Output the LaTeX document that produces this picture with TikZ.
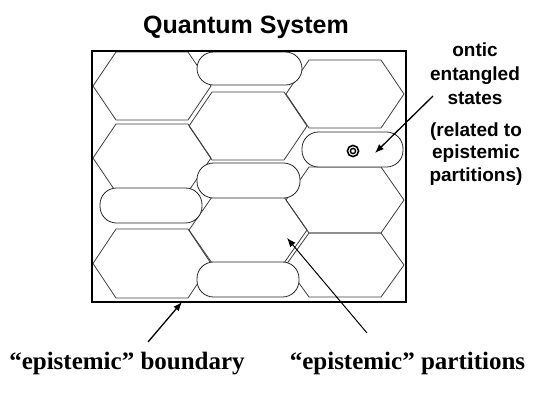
\documentclass[tikz,border=0pt]{standalone}
\usepackage{fontspec}
\setmainfont{Liberation Serif}
\newfontfamily\arialf{Liberation Sans}
\usetikzlibrary{arrows.meta}
\newcommand\hexcell[3]{%
  \draw[hexline] ({#1-59},{#2}) -- ({#1-36},{#2-#3}) -- ({#1+36},{#2-#3})
    -- ({#1+59},{#2}) -- ({#1+36},{#2+#3}) -- ({#1-36},{#2+#3}) -- cycle;}
\newcommand\pillcell[4]{%
  \draw[pill] (#1,#2) rectangle (#3,#4);}
\begin{document}
\begin{tikzpicture}[x=1pt,y=-1pt,
  hexline/.style={draw=black!75, line width=0.8pt},
  pill/.style={draw=black!85, fill=white, line width=0.8pt, rounded corners=16.5pt},
  frame/.style={draw=black, line width=2.5pt},
  arr/.style={draw=black, line width=1.3pt, -{Latex[length=9pt,width=7pt]}},
  titlefont/.style={font=\arialf\bfseries\fontsize{25}{30}\selectfont},
  sidefont/.style={font=\arialf\bfseries\fontsize{19}{23}\selectfont},
  labfont/.style={font=\bfseries\fontsize{25}{30}\selectfont}]
\useasboundingbox (0,0) rectangle (536,400);
\fill[white] (0,0) rectangle (536,400);

% honeycomb cells
\begin{scope}
  \clip (92,51) rectangle (406,302);
  % column 1
  \hexcell{152}{86}{34}
  \hexcell{152}{158}{34}
  \hexcell{152}{263.5}{34.5}
  % column 2
  \hexcell{248}{126}{34}
  \hexcell{248}{230}{33}
  % column 3
  \hexcell{345}{94}{34}
  \hexcell{345}{200}{33}
  \hexcell{345}{265}{32}
\end{scope}

% pill-shaped partitions
\pillcell{197}{52}{302}{85}
\pillcell{197}{163}{300}{198}
\pillcell{100}{188}{202}{223}
\pillcell{197}{262}{299}{297}
\pillcell{302}{132}{403}{167}

% ontic state symbol
\draw[line width=1.6pt] (353,151) circle (5.6);
\draw[line width=1.4pt] (353,151) circle (2.6);

% boundary
\draw[frame] (92,51) rectangle (406,302);

% texts
\node[titlefont, anchor=base] (title) at (246,33) {Quantum System};
\node[sidefont, anchor=base] (s1) at (475,56.5) {ontic};
\node[sidefont, anchor=base] (s2) at (475,80) {entangled};
\node[sidefont, anchor=base] (s3) at (475,104) {states};
\node[sidefont, anchor=base] (s4) at (476,136) {(related to};
\node[sidefont, anchor=base] (s5) at (476,158.5) {epistemic};
\node[sidefont, anchor=base] (s6) at (476,181) {partitions)};
\node[labfont, anchor=base] (lb) at (127,369) {“epistemic” boundary};
\node[labfont, anchor=base] (lp) at (407.5,369) {“epistemic” partitions};

% arrows
\coordinate (a1s) at (433,96);
\coordinate (a1e) at (375,153);
\coordinate (a2s) at (148,342);
\coordinate (a2e) at (182,302);
\coordinate (a3s) at (367,333);
\coordinate (a3e) at (287,238);
\draw[arr] (a1s) -- (a1e);
\draw[arr] (a2s) -- (a2e);
\draw[arr, line width=1pt] (a3s) -- (a3e);
\end{tikzpicture}
\end{document}
